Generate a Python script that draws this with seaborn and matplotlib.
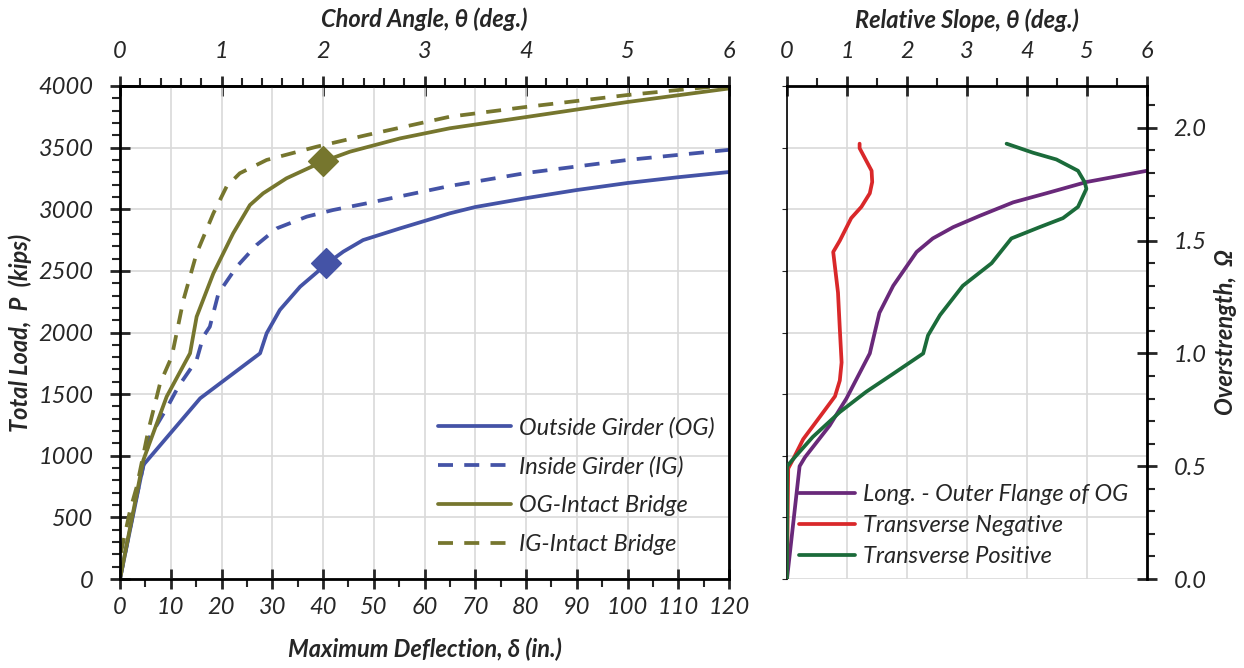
import numpy as np
import pandas as pd
import matplotlib
matplotlib.use("Agg")
import matplotlib.pyplot as plt
import seaborn as sns
from matplotlib.ticker import MultipleLocator, FormatStrFormatter

# Left panel: load vs. maximum deflection
og_defl = [0, 4.6, 15.8, 27.6, 28.9, 31.5, 35.5, 41.0, 44.0, 47.9, 55.2, 65.0, 70, 80, 90, 100, 110, 120]
og_load = [0, 925, 1466, 1831, 1994, 2183, 2372, 2566, 2656, 2750, 2845, 2967, 3018, 3090, 3156, 3213, 3260, 3302]

ig_defl = [0, 3.0, 5.9, 9.2, 11.5, 15.1, 16.4, 17.7, 19.4, 23.0, 26.9, 30.9, 36.8, 42.0, 48.6, 65.0, 80, 100, 120]
ig_load = [0, 620, 1155, 1385, 1561, 1777, 1966, 2047, 2318, 2534, 2710, 2845, 2940, 2994, 3048, 3189, 3294, 3400, 3482]

ogi_defl = [0, 4.6, 9.2, 13.8, 15.1, 18.4, 22.3, 25.6, 28.2, 32.8, 39.9, 45.3, 55.2, 65.0, 80, 100, 120]
ogi_load = [0, 965, 1480, 1831, 2128, 2480, 2805, 3034, 3129, 3251, 3386, 3467, 3575, 3657, 3748, 3870, 3980]

igi_defl = [0, 0.3, 2.0, 3.3, 5.6, 7.9, 10.2, 12.5, 15.1, 18.4, 21.0, 23.6, 28.9, 38.8, 48.6, 65.0, 80, 100, 118]
igi_load = [0, 235, 560, 749, 1209, 1588, 1804, 2264, 2643, 2967, 3184, 3292, 3400, 3508, 3602, 3751, 3830, 3927, 4000]

# markers at 2 deg chord angle
mark_defl = [40.5, 40.0]
mark_load = [2560, 3388]

# Right panel: overstrength vs. relative slope
long_slope = [0, 0.21, 0.30, 0.71, 0.99, 1.38, 1.54, 1.77, 2.16, 2.43, 2.77, 3.21, 3.77, 4.32, 4.99, 6.0]
long_omega = [0, 0.50, 0.54, 0.68, 0.80, 1.00, 1.18, 1.30, 1.45, 1.51, 1.56, 1.61, 1.67, 1.71, 1.76, 1.81]

neg_slope = [0, 0.02, 0.10, 0.27, 0.55, 0.80, 0.88, 0.91, 0.88, 0.85, 0.77, 0.88, 1.07, 1.24, 1.38, 1.42, 1.41, 1.21, 1.21]
neg_omega = [0, 0.49, 0.53, 0.62, 0.72, 0.81, 0.88, 0.96, 1.11, 1.27, 1.45, 1.50, 1.60, 1.65, 1.71, 1.76, 1.81, 1.91, 1.93]

pos_slope = [0, 0, 0.13, 0.43, 0.88, 1.32, 1.77, 2.27, 2.35, 2.55, 2.93, 3.41, 3.74, 4.21, 4.60, 4.85, 4.99, 4.96, 4.85, 4.49, 4.10, 3.66]
pos_omega = [0, 0.50, 0.54, 0.63, 0.74, 0.83, 0.91, 1.00, 1.08, 1.17, 1.30, 1.40, 1.51, 1.56, 1.60, 1.65, 1.73, 1.76, 1.81, 1.86, 1.89, 1.93]

P_REF = 1830.0  # kips at overstrength 1.0

BLUE = "#4453A6"
OLIVE = "#76762E"
PURPLE = "#69297A"
RED = "#D9282A"
GREEN = "#1B6B3A"

sns.set_style("white")
plt.rcParams["font.family"] = ["Lato", "DejaVu Sans"]
plt.rcParams["font.style"] = "italic"

TICK_FS = 17
LAB_FS = 17
LEG_FS = 17

fig = plt.figure(figsize=(12.44, 6.68), dpi=100)
ax = fig.add_axes([120 / 1244, 89 / 668, 609 / 1244, 493 / 668])
axr = fig.add_axes([787 / 1244, 89 / 668, 360 / 1244, 493 / 668])

grid_kw = dict(color="#d9d9d9", linewidth=1.2)
major_kw = dict(direction="inout", length=14, width=2, labelsize=TICK_FS)
minor_kw = dict(direction="out", length=6, width=1.5)

# ---- left panel ----
lw = 2.7
dash = (0, (4, 3))
sns.lineplot(x=og_defl, y=og_load, ax=ax, color=BLUE, lw=lw, sort=False, estimator=None,
             label="Outside Girder (OG)")
sns.lineplot(x=ig_defl, y=ig_load, ax=ax, color=BLUE, lw=lw, sort=False, estimator=None,
             label="Inside Girder (IG)", linestyle=dash)
sns.lineplot(x=ogi_defl, y=ogi_load, ax=ax, color=OLIVE, lw=lw, sort=False, estimator=None,
             label="OG-Intact Bridge")
sns.lineplot(x=igi_defl, y=igi_load, ax=ax, color=OLIVE, lw=lw, sort=False, estimator=None,
             label="IG-Intact Bridge", linestyle=dash)
ax.scatter(mark_defl[:1], mark_load[:1], marker="D", s=230, color=BLUE, zorder=5)
ax.scatter(mark_defl[1:], mark_load[1:], marker="D", s=230, color=OLIVE, zorder=5)

ax.set_xlim(0, 120)
ax.set_ylim(0, 4000)
ax.xaxis.set_major_locator(MultipleLocator(10))
ax.xaxis.set_minor_locator(MultipleLocator(5))
ax.yaxis.set_major_locator(MultipleLocator(500))
ax.yaxis.set_minor_locator(MultipleLocator(100))
ax.grid(True, which="major", **grid_kw)
ax.set_axisbelow(True)
for s in ax.spines.values():
    s.set_color("black")
    s.set_linewidth(2)
ax.tick_params(axis="x", which="major", pad=6, **major_kw)
ax.tick_params(axis="y", which="major", pad=12, **major_kw)
ax.tick_params(which="minor", **minor_kw)
ax.tick_params(axis="both", which="both", bottom=True, left=True)
ax.set_xlabel("Maximum Deflection, δ (in.)", fontweight="bold", fontsize=LAB_FS, labelpad=14)
ax.set_ylabel("Total Load,  P  (kips)", fontweight="bold", fontsize=LAB_FS)
ax.yaxis.set_label_coords(-0.145, 0.5)

top = ax.secondary_xaxis("top", functions=(lambda d: d / 20.0, lambda t: t * 20.0))
top.xaxis.set_major_locator(MultipleLocator(1))
top.xaxis.set_minor_locator(MultipleLocator(0.2))
top.tick_params(which="major", pad=10, **major_kw)
top.tick_params(which="minor", **minor_kw)
top.spines["top"].set_linewidth(2)
top.set_xlabel("Chord Angle, θ (deg.)", fontweight="bold", fontsize=LAB_FS, labelpad=10)

ax.legend(loc="lower right", bbox_to_anchor=(1.0, 0.02), frameon=False, fontsize=LEG_FS,
          handlelength=3.1, handletextpad=0.35, labelspacing=0.75, borderaxespad=0.2)

# ---- right panel ----
axr.set_xlim(0, 6)
axr.set_ylim(0, 4000)
axr.xaxis.set_major_locator(MultipleLocator(1))
axr.xaxis.set_minor_locator(MultipleLocator(0.5))
axr.yaxis.set_major_locator(MultipleLocator(500))
axr.grid(True, which="major", **grid_kw)
axr.set_axisbelow(True)
axr.xaxis.tick_top()
axr.xaxis.set_label_position("top")
axr.tick_params(axis="x", which="major", pad=10, **major_kw)
axr.tick_params(axis="x", which="minor", **minor_kw)
axr.tick_params(axis="y", left=False, labelleft=False)
axr.set_xlabel("Relative Slope, θ (deg.)", fontweight="bold", fontsize=LAB_FS, labelpad=10)
axr.spines["bottom"].set_visible(False)
axr.spines["left"].set_color("black")
axr.spines["left"].set_linewidth(1.2)
axr.spines["top"].set_color("black")
axr.spines["top"].set_linewidth(2)
axr.spines["right"].set_visible(False)

axo = axr.twinx()
axo.set_ylim(0, 4000 / P_REF)
axo.set_xlim(0, 6)
for s in ["top", "bottom", "left"]:
    axo.spines[s].set_visible(False)
axo.spines["right"].set_color("black")
axo.spines["right"].set_linewidth(2)
axo.yaxis.set_major_locator(MultipleLocator(0.5))
axo.yaxis.set_minor_locator(MultipleLocator(0.1))
axo.yaxis.set_major_formatter(FormatStrFormatter("%.1f"))
axo.tick_params(axis="y", which="major", pad=12, **major_kw)
axo.tick_params(axis="y", which="minor", **minor_kw)
axo.set_ylabel("Overstrength,  Ω", fontweight="bold", fontsize=LAB_FS)
axo.yaxis.set_label_coords(1.185, 0.5)

lw2 = 2.7
sns.lineplot(x=long_slope, y=long_omega, ax=axo, color=PURPLE, lw=lw2, sort=False, estimator=None,
             label="Long. - Outer Flange of OG")
sns.lineplot(x=neg_slope, y=neg_omega, ax=axo, color=RED, lw=lw2, sort=False, estimator=None,
             label="Transverse Negative")
sns.lineplot(x=pos_slope, y=pos_omega, ax=axo, color=GREEN, lw=lw2, sort=False, estimator=None,
             label="Transverse Positive")
axo.set_xlabel("")
axo.legend(loc="lower left", bbox_to_anchor=(0.0, 0.0), frameon=False, fontsize=LEG_FS,
           handlelength=2.4, handletextpad=0.3, labelspacing=0.42, borderaxespad=0.1)

fig.savefig("out.png", dpi=100)
